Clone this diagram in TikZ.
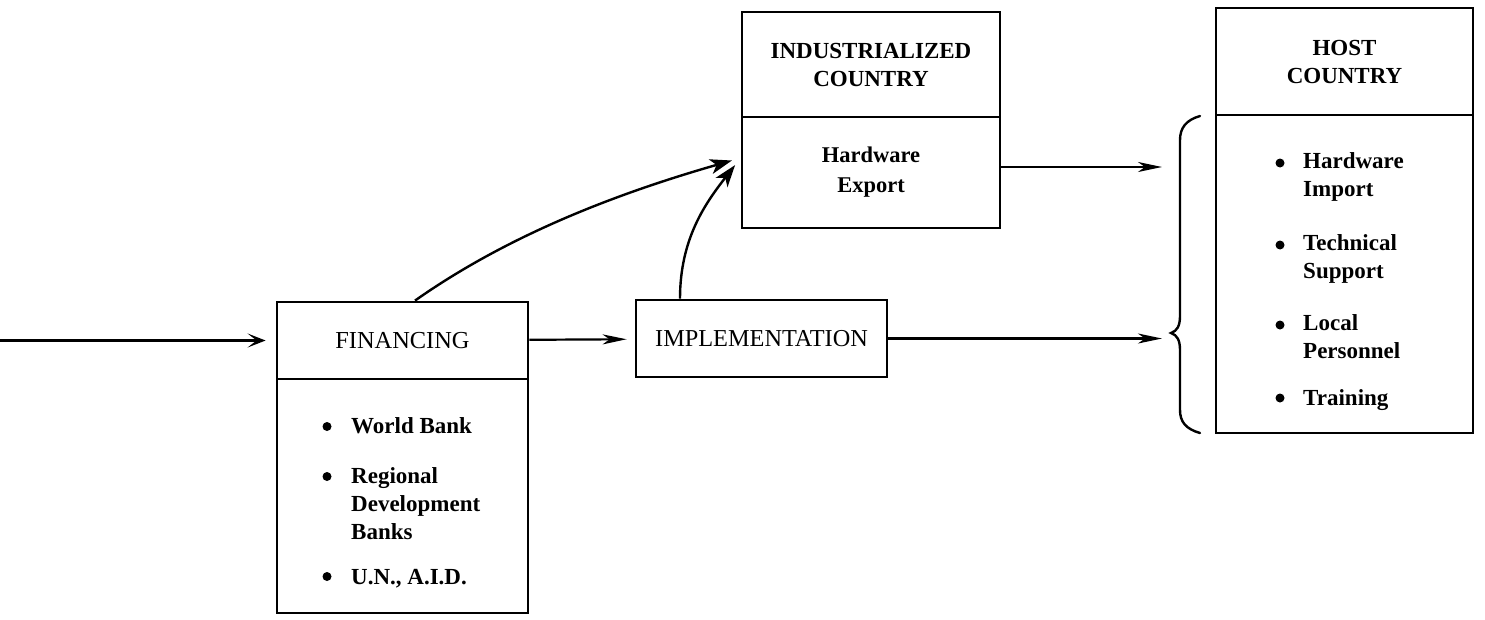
\documentclass[tikz,border=0pt]{standalone}
\usepackage{fontspec}
\setmainfont{Liberation Serif}
\usetikzlibrary{arrows.meta}
\begin{document}
\begin{tikzpicture}[x=1pt,y=-1pt,
  box/.style={draw,line width=2.8pt,inner sep=0pt,align=center,font=\fontsize{23}{28}\selectfont\bfseries},
  lbl/.style={inner sep=0pt,anchor=base west,align=left,font=\fontsize{23}{28}\selectfont\bfseries},
  hlbl/.style={lbl,font=\fontsize{23}{27.5}\selectfont\bfseries},
  arr/.style={line width=2.2pt,-{Stealth[length=24pt,width=10pt,inset=7pt]}},
  carr/.style={line width=2.4pt,-{Stealth[length=22pt,width=15pt,inset=6pt]}},
  inarr/.style={line width=2.4pt,-{Stealth[length=18pt,width=14pt,inset=9pt]}},
  dot/.style={circle,fill,inner sep=0pt,minimum size=9pt}]
\useasboundingbox (0,0) rectangle (1485,619);

% boxes
\node[box,minimum width=251pt,minimum height=77pt,font=\fontsize{24.4}{28}\selectfont] (fin) at (402.5,340.5) {FINANCING};
\node[box,minimum width=251pt,minimum height=234pt] (finb) at (402.5,496) {};
\node[box,minimum width=251pt,minimum height=77pt,font=\fontsize{24.3}{28}\selectfont] (impl) at (761.5,338.5) {IMPLEMENTATION};
\node[box,minimum width=258pt,minimum height=105pt] (ind) at (871,64.5) {INDUSTRIALIZED\\COUNTRY};
\node[box,minimum width=258pt,minimum height=111pt,font=\fontsize{22.5}{30}\selectfont\bfseries] (indb) at (871,172.5) {Hardware\\Export};
\node[box,minimum width=257pt,minimum height=107pt] (host) at (1344.5,61.5) {HOST\\COUNTRY};
\node[box,minimum width=257pt,minimum height=318pt] (hostb) at (1344.5,274) {};

% financing list (base anchor = last line)
\node[dot] (fb1) at (327,426.5) {};
\node[lbl] (ft1) at (351,433) {World Bank};
\node[dot] (fb2) at (327,476.5) {};
\node[lbl] (ft2) at (351,539) {Regional\\Development\\Banks};
\node[dot] (fb3) at (327,576.5) {};
\node[lbl] (ft3) at (351,584) {U.N., A.I.D.};

% host list
\node[dot] (hb1) at (1280,163) {};
\node[hlbl] (ht1) at (1303,196) {Hardware\\Import};
\node[dot] (hb2) at (1280,245) {};
\node[hlbl] (ht2) at (1303,278) {Technical\\Support};
\node[dot] (hb3) at (1280,325) {};
\node[hlbl] (ht3) at (1303,358) {Local\\Personnel};
\node[dot] (hb4) at (1280,398) {};
\node[hlbl] (ht4) at (1303,405) {Training};

% brace
\draw[line width=2.4pt,line cap=round]
  (1200,116) .. controls (1186,120) and (1180,128) .. (1180,140)
  -- (1180,316) .. controls (1180,326) and (1177,331) .. (1171,333)
  .. controls (1177,335) and (1180,340) .. (1180,350)
  -- (1180,410) .. controls (1180,422) and (1186,429) .. (1200,433);

% connectors
\coordinate (in) at (0,340.5);
\coordinate (lowtip) at (1162,338.5);
\coordinate (uptip) at (1162,167);
\draw[inarr,shorten >=10pt] (in) -- (fin);
\draw[arr,shorten >=8pt] (fin) -- (impl);
\draw[arr] (impl) -- (lowtip);
\draw[arr] (uptip -| indb.east) -- (uptip);
\draw[carr,shorten >=9pt] ([xshift=12.5pt]fin.north) .. controls +(98,-69) and +(-115,33) .. ([yshift=14.5pt]indb.west);
\draw[carr,shorten >=9pt] ([xshift=-81.5pt]impl.north) .. controls +(0,-60) and +(-35,45) .. ([yshift=14.5pt]indb.west);
\end{tikzpicture}
\end{document}
